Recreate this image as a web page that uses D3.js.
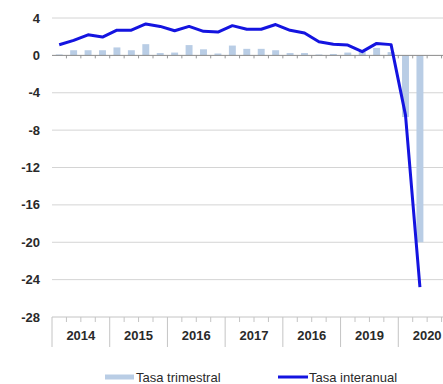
<!DOCTYPE html>
<html>
<head>
<meta charset="utf-8">
<script src="https://cdn.jsdelivr.net/npm/d3@7/dist/d3.min.js"></script>
<style>
  html, body { margin: 0; padding: 0; background: #fff; }
  svg { display: block; font-family: "Liberation Sans", Arial, sans-serif; }
</style>
</head>
<body>
<svg id="chart" width="443" height="384"></svg>
<script>
// Year labels shown under the category axis
const yearLabels = ["2014", "2015", "2016", "2017", "2016", "2019", "2020"];
const quartersPerYear = ["T1", "T2", "T3", "T4"];

// Quarterly rate (%), 2014 T1 .. 2020 T2
const tasaTrimestral = [0.1, 0.55, 0.55, 0.55, 0.85, 0.55, 1.2, 0.25,
                        0.3, 1.1, 0.65, 0.2, 1.05, 0.7, 0.7, 0.55,
                        0.25, 0.25, 0.1, 0.15, 0.3, 0.4, 0.8, 0.35,
                        -6.6, -20.0];
// Year-on-year rate (%), 2014 T1 .. 2020 T2
const tasaInteranual = [1.14, 1.6, 2.2, 1.96, 2.7, 2.7, 3.36, 3.1,
                        2.64, 3.1, 2.57, 2.5, 3.18, 2.8, 2.8, 3.3,
                        2.68, 2.4, 1.45, 1.18, 1.1, 0.4, 1.28, 1.15,
                        -6.4, -24.8];
const yTicks = [4, 0, -4, -8, -12, -16, -20, -24, -28];
const legendLabels = ["Tasa trimestral", "Tasa interanual"];

const svg = d3.select("#chart");

// every quarter slot of the axis (the last year is only partly filled)
const slots = [];
yearLabels.forEach((yl, i) => quartersPerYear.forEach(q => slots.push(i + "-" + q)));

const x = d3.scaleBand().domain(slots).range([52, 456]).paddingInner(0).paddingOuter(0);
const y = d3.scaleLinear().domain([-28, 4]).range([317, 18]);

const rows = tasaTrimestral.map((v, i) => ({ slot: slots[i], trim: v, inter: tasaInteranual[i] }));

// horizontal grid
svg.append("g")
  .selectAll("line")
  .data(yTicks.filter(t => t !== 0 && t !== -28))
  .join("line")
  .attr("x1", 52).attr("x2", 443)
  .attr("y1", d => y(d)).attr("y2", d => y(d))
  .attr("stroke", "#d4d4d4").attr("stroke-width", 1);

// y labels
svg.append("g")
  .selectAll("text")
  .data(yTicks)
  .join("text")
  .attr("x", 40).attr("y", d => y(d))
  .attr("dy", "0.35em")
  .attr("text-anchor", "end")
  .attr("font-size", 13)
  .attr("font-weight", "bold")
  .attr("fill", "#2a2a2a")
  .text(d => d);

// bars
svg.append("g")
  .selectAll("rect")
  .data(rows)
  .join("rect")
  .attr("x", d => x(d.slot) + x.bandwidth() * 0.26)
  .attr("width", x.bandwidth() * 0.48)
  .attr("y", d => y(Math.max(0, d.trim)))
  .attr("height", d => Math.abs(y(d.trim) - y(0)))
  .attr("fill", "#b9cde5");

// zero line with quarter ticks
const zeroAxis = d3.axisBottom(x).tickValues(slots.slice(1)).tickSize(3).tickFormat("")
  .offset(0);
const zg = svg.append("g").attr("transform", `translate(${-x.bandwidth() / 2},${y(0)})`).call(zeroAxis);
zg.select(".domain").remove();
zg.selectAll(".tick line").attr("stroke", "#9a9a9a");
svg.append("line")
  .attr("x1", 52).attr("x2", 443).attr("y1", y(0)).attr("y2", y(0))
  .attr("stroke", "#8a8a8a").attr("stroke-width", 1);

// bottom category axis
const bottom = svg.append("g");
bottom.append("line")
  .attr("x1", 52).attr("x2", 443).attr("y1", y(-28)).attr("y2", y(-28))
  .attr("stroke", "#c4c4c4");
bottom.selectAll("line.q")
  .data(slots)
  .join("line")
  .attr("class", "q")
  .attr("x1", d => x(d)).attr("x2", d => x(d))
  .attr("y1", y(-28))
  .attr("y2", d => d.endsWith("T1") ? y(-28) + 30 : y(-28) + 5)
  .attr("stroke", "#c4c4c4");
bottom.selectAll("text")
  .data(yearLabels)
  .join("text")
  .attr("x", (d, i) => x(i + "-T1") + x.bandwidth() * 2)
  .attr("y", y(-28) + 23)
  .attr("text-anchor", "middle")
  .attr("font-size", 13)
  .attr("font-weight", "bold")
  .attr("fill", "#2a2a2a")
  .text(d => d);

// year-on-year line
svg.append("path")
  .datum(rows)
  .attr("fill", "none")
  .attr("stroke", "#1414e0")
  .attr("stroke-width", 3)
  .attr("stroke-linejoin", "round")
  .attr("d", d3.line().x(d => x(d.slot) + x.bandwidth() / 2).y(d => y(d.inter)));

// legend
const lg = svg.append("g");
lg.append("rect").attr("x", 105).attr("y", 374.5).attr("width", 29).attr("height", 5).attr("fill", "#b9cde5");
lg.append("text").attr("x", 136).attr("y", 377).attr("dy", "0.35em")
  .attr("font-size", 13).attr("fill", "#2a2a2a").text(legendLabels[0]);
lg.append("line").attr("x1", 278).attr("x2", 308).attr("y1", 377).attr("y2", 377)
  .attr("stroke", "#1414e0").attr("stroke-width", 3);
lg.append("text").attr("x", 309).attr("y", 377).attr("dy", "0.35em")
  .attr("font-size", 13).attr("fill", "#2a2a2a").text(legendLabels[1]);
</script>
</body>
</html>
